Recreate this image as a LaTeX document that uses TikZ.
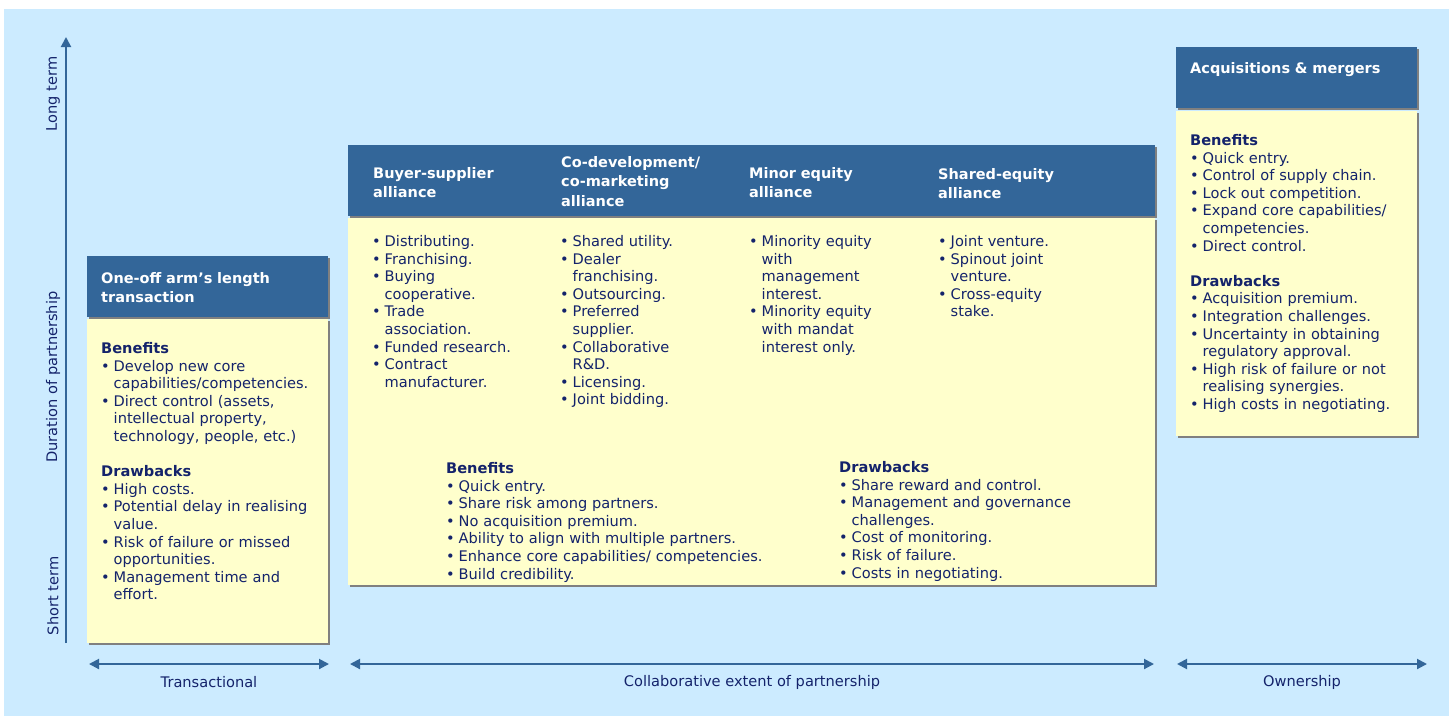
\documentclass[tikz,border=0pt]{standalone}
\usepackage{fontspec}
\setmainfont{DejaVu Sans}
\usepackage{tikz}
\usetikzlibrary{arrows.meta,positioning,shadows}
\definecolor{sky}{HTML}{CCEBFF}
\definecolor{navy}{HTML}{336699}
\definecolor{cream}{HTML}{FFFFCC}
\definecolor{ink}{HTML}{14236B}
\definecolor{shade}{HTML}{808080}
\newcommand{\bodyfont}{\fontsize{14.6}{17.6}\selectfont}
\newcommand{\headfont}{\fontsize{14.5}{19.5}\selectfont\bfseries}
% one bullet line, wrapped lines sit under the text
\newcommand{\bul}[1]{\par\leftskip=12.5pt\noindent\llap{\makebox[12.5pt][l]{\strut\textbullet}}#1\par}
\newcommand{\blockhead}[1]{\par\leftskip=0pt\noindent\strut\textbf{#1}\par}
\newcommand{\skipline}{\par\vspace{\baselineskip}}
\tikzset{
  hdr/.style={rectangle, fill=navy, anchor=north west, inner sep=0pt,
              drop shadow={fill=shade, opacity=1, shadow xshift=2pt, shadow yshift=-2pt}},
  panel/.style={hdr, fill=cream},
  htxt/.style={inner sep=0pt, text width=#1, align=left, font=\headfont, text=white},
  htxt/.default=220pt,
  btxt/.style={inner sep=0pt, text width=#1, align=left, font=\bodyfont, text=ink},
  btxt/.default=220pt,
  axlbl/.style={font=\bodyfont, text=ink, inner sep=0pt},
  axis/.style={draw=navy, line width=2pt, -{Triangle[length=10pt,width=10pt]}},
  span/.style={draw=navy, line width=2pt, {Triangle[length=10pt,width=10pt]}-{Triangle[length=10pt,width=10pt]}}
}

\begin{document}
\begin{tikzpicture}[x=1pt, y=-1pt]
  \useasboundingbox (0,0) rectangle (1454,716);
  \fill[sky] (4,9) rectangle (1449,716);

  % duration axis
  \coordinate (ybot) at (66,643);
  \coordinate (ytop) at (66,37);
  \draw[axis] (ybot) -- (ytop);
  \node[axlbl, rotate=90] (longt) at (53,94) {Long term};
  \node[axlbl, rotate=90] (durt) at (53,377) {Duration of partnership};
  \node[axlbl, rotate=90] (shortt) at (53,596) {Short term};

  % one-off transaction
  \node[hdr, minimum width=241pt, minimum height=61pt] (onehdr) at (87,256) {};
  \node[panel, minimum width=241pt, minimum height=324pt] (onebody) at (87,319) {};
  \node[htxt, below right=13.35pt and 14pt of onehdr.north west] (onettl)
    {\strut One-off arm’s length\\transaction};
  \node[btxt, below right=16.68pt and 14pt of onebody.north west] (onetxt) {%
    \blockhead{Benefits}
    \bul{Develop new core\\capabilities/competencies.}
    \bul{Direct control (assets,\\intellectual property,\\technology, people, etc.)}
    \skipline
    \blockhead{Drawbacks}
    \bul{High costs.}
    \bul{Potential delay in realising\\value.}
    \bul{Risk of failure or missed\\opportunities.}
    \bul{Management time and\\effort.}};

  % alliances
  \node[hdr, minimum width=807pt, minimum height=71pt] (midhdr) at (348,145) {};
  \node[panel, minimum width=807pt, minimum height=367pt] (midbody) at (348,218) {};
  \node[htxt=170pt, below right=19.35pt and 25pt of midhdr.north west] (buyttl)
    {\strut Buyer-supplier\\alliance};
  \node[htxt=170pt, below right=8.35pt and 213pt of midhdr.north west] (codttl)
    {\strut Co-development/\\co-marketing\\alliance};
  \node[htxt=170pt, below right=19.35pt and 401pt of midhdr.north west] (minttl)
    {\strut Minor equity\\alliance};
  \node[htxt=170pt, below right=20.35pt and 590pt of midhdr.north west] (shrttl)
    {\strut Shared-equity\\alliance};

  \node[btxt=175pt, below right=10.68pt and 24pt of midbody.north west] (buytxt) {%
    \bul{Distributing.}
    \bul{Franchising.}
    \bul{Buying\\cooperative.}
    \bul{Trade\\association.}
    \bul{Funded research.}
    \bul{Contract\\manufacturer.}};
  \node[btxt=175pt, below right=10.68pt and 212pt of midbody.north west] (codtxt) {%
    \bul{Shared utility.}
    \bul{Dealer\\franchising.}
    \bul{Outsourcing.}
    \bul{Preferred\\supplier.}
    \bul{Collaborative\\R\&D.}
    \bul{Licensing.}
    \bul{Joint bidding.}};
  \node[btxt=175pt, below right=10.68pt and 401pt of midbody.north west] (mintxt) {%
    \bul{Minority equity\\with\\management\\interest.}
    \bul{Minority equity\\with mandat\\interest only.}};
  \node[btxt=175pt, below right=10.68pt and 590pt of midbody.north west] (shrtxt) {%
    \bul{Joint venture.}
    \bul{Spinout joint\\venture.}
    \bul{Cross-equity\\stake.}};

  \node[btxt=380pt, below right=237.68pt and 98pt of midbody.north west] (midben) {%
    \blockhead{Benefits}
    \bul{Quick entry.}
    \bul{Share risk among partners.}
    \bul{No acquisition premium.}
    \bul{Ability to align with multiple partners.}
    \bul{Enhance core capabilities/ competencies.}
    \bul{Build credibility.}};
  \node[btxt=300pt, below right=236.68pt and 491pt of midbody.north west] (middrw) {%
    \blockhead{Drawbacks}
    \bul{Share reward and control.}
    \bul{Management and governance\\challenges.}
    \bul{Cost of monitoring.}
    \bul{Risk of failure.}
    \bul{Costs in negotiating.}};

  % acquisitions
  \node[hdr, minimum width=241pt, minimum height=61pt] (acqhdr) at (1176,47) {};
  \node[panel, minimum width=241pt, minimum height=325pt] (acqbody) at (1176,111) {};
  \node[htxt, below right=12.35pt and 14pt of acqhdr.north west] (acqttl)
    {\strut Acquisitions \& mergers};
  \node[btxt, below right=16.68pt and 14pt of acqbody.north west] (acqtxt) {%
    \blockhead{Benefits}
    \bul{Quick entry.}
    \bul{Control of supply chain.}
    \bul{Lock out competition.}
    \bul{Expand core capabilities/\\competencies.}
    \bul{Direct control.}
    \skipline
    \blockhead{Drawbacks}
    \bul{Acquisition premium.}
    \bul{Integration challenges.}
    \bul{Uncertainty in obtaining\\regulatory approval.}
    \bul{High risk of failure or not\\realising synergies.}
    \bul{High costs in negotiating.}};

  % extent axis
  \coordinate (t0) at (89,664);   \coordinate (t1) at (329,664);
  \coordinate (c0) at (350,664);  \coordinate (c1) at (1154,664);
  \coordinate (o0) at (1177,664); \coordinate (o1) at (1427,664);
  \draw[span] (t0) -- node[axlbl, yshift=-18pt] (trlbl) {Transactional} (t1);
  \draw[span] (c0) -- node[axlbl, yshift=-18pt] (colbl) {Collaborative extent of partnership} (c1);
  \draw[span] (o0) -- node[axlbl, yshift=-18pt] (owlbl) {Ownership} (o1);
\end{tikzpicture}
\end{document}
